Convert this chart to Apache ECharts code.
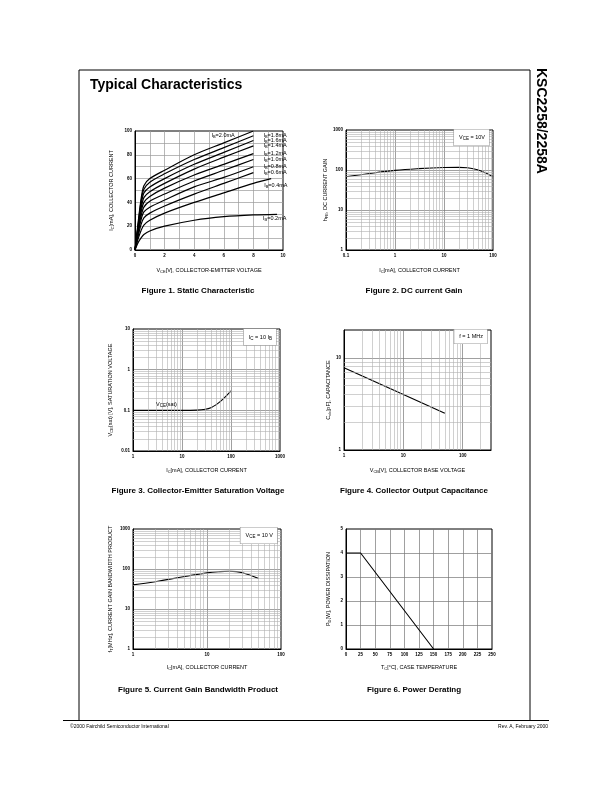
<!DOCTYPE html>
<html>
<head>
<meta charset="utf-8">
<script src="https://cdn.jsdelivr.net/npm/echarts@6/dist/echarts.min.js"></script>
<style>
html,body{margin:0;padding:0;background:#fff}
#chart{width:612px;height:792px}
</style>
</head>
<body>
<div id="chart"></div>
<script>
// Figure 1 : Ic vs Vce for each base current, pairs [Vce, Ic]
var ib20 = [[0,0],[0.2,22],[0.4,42],[0.6,54],[1,60],[2,67],[4,80],[6,90],[8,100]];
var ib18 = [[0,0],[0.2,20],[0.4,40],[0.6,51],[1,57],[2,64],[4,76],[6,86],[8,96]];
var ib16 = [[0,0],[0.2,19],[0.4,37],[0.6,48],[1,53],[2,60],[4,72],[6,82],[8,92]];
var ib14 = [[0,0],[0.2,18],[0.4,34],[0.6,44],[1,49],[2,56],[4,68],[6,78],[8,87.5]];
var ib12 = [[0,0],[0.2,16],[0.4,31],[0.6,40],[1,45],[2,52],[4,63],[6,72],[8,81]];
var ib10 = [[0,0],[0.2,15],[0.4,28],[0.6,36],[1,41],[2,47],[4,58],[6,67],[8,76]];
var ib08 = [[0,0],[0.2,13],[0.4,25],[0.6,32],[1,36],[2,42],[4,53],[6,61],[8,70]];
var ib06 = [[0,0],[0.2,11],[0.4,21],[0.6,27],[1,31],[2,37],[4,47],[6,56],[8,65]];
var ib04 = [[0,0],[0.2,9],[0.4,16],[0.6,21],[1,25],[2,31],[4,40],[6,48],[8,56],[9.2,60]];
var ib02 = [[0,0],[0.2,6],[0.4,10],[0.6,13],[1,16],[2,20],[4,25],[6,28],[8,29.5],[9.6,30]];
var ibNames = ['2.0','1.8','1.6','1.4','1.2','1.0','0.8','0.6','0.4','0.2'];
var fig1XTicks = [0,2,4,6,8,10];
var fig1YTicks = [0,20,40,60,80,100];

// Figure 2 : hFE vs Ic
var hfeData = [[0.1,68],[0.3,82],[1,98],[3,108],[10,115],[20,116],[30,114],[50,100],[70,85],[100,68]];
var fig2XTicks = ['0.1','1','10','100'];
var fig2YTicks = ['1','10','100','1000'];

// Figure 3 : Vce(sat) vs Ic
var vceSatData = [[1,0.1],[10,0.1],[20,0.101],[30,0.106],[40,0.118],[50,0.138],[60,0.163],[80,0.226],[100,0.3]];
var fig3XTicks = ['1','10','100','1000'];
var fig3YTicks = ['0.01','0.1','1','10'];

// Figure 4 : Cob vs Vcb
var cobData = [[1,7.8],[10,4.0],[50,2.5]];
var fig4XTicks = ['1','10','100'];
var fig4YTicks = ['1','10'];

// Figure 5 : fT vs Ic
var ftData = [[1,40],[2,48],[5,65],[10,80],[15,86],[20,88],[25,86],[30,81],[40,68],[50,58]];
var fig5XTicks = ['1','10','100'];
var fig5YTicks = ['1','10','100','1000'];

// Figure 6 : Pd vs Tc
var pdData = [[0,4],[25,4],[150,0]];

var FONT = 'Liberation Sans, Arial, sans-serif';
var sub = { fontSize: 4, fontFamily: FONT, padding: [3, 0, 0, 0] };
var subBig = { fontSize: 4.5, fontFamily: FONT, padding: [3, 0, 0, 0] };

var grids = [
  { left: 135, top: 131, width: 148, height: 119 },
  { left: 346, top: 130, width: 147, height: 120 },
  { left: 133, top: 329, width: 147, height: 122 },
  { left: 344, top: 330, width: 147, height: 120 },
  { left: 133, top: 529, width: 148, height: 120 },
  { left: 346, top: 529, width: 146, height: 120 }
];
grids.forEach(function (g) { g.show = true; g.borderColor = '#000'; g.borderWidth = 1; });

// minor grid lines 2..9 inside every decade of a log axis
function minorVals(lo, hi) {
  var out = [];
  for (var d = lo; d < hi; d *= 10) {
    for (var k = 2; k <= 9; k++) {
      var v = +(d * k).toPrecision(3);
      if (v < hi) out.push(v);
    }
  }
  return out;
}
function minorLines(xlo, xhi, ylo, yhi) {
  var d = minorVals(xlo, xhi).map(function (v) { return { xAxis: v }; })
    .concat(minorVals(ylo, yhi).map(function (v) { return { yAxis: v }; }));
  return {
    silent: true, symbol: 'none', label: { show: false },
    lineStyle: { color: '#b0b0b0', width: 0.6, type: 'solid' },
    emphasis: { disabled: true },
    data: d
  };
}

function labelIn(list) {
  return function (v) {
    var s = String(+(+v).toPrecision(3));
    return list.indexOf(s) >= 0 || list.indexOf(+s) >= 0 ? s : '';
  };
}

function axis(gi, opt, nameText, gap) {
  var a = {
    gridIndex: gi,
    name: nameText,
    nameLocation: 'middle',
    nameGap: gap,
    nameTextStyle: { fontSize: 5.5, fontFamily: FONT, color: '#000', rich: { s: sub } },
    axisLine: { show: true, lineStyle: { color: '#000', width: 1 } },
    axisTick: { show: false },
    axisLabel: { fontSize: 4.5, fontFamily: FONT, color: '#000', margin: 3, fontWeight: 'bold' },
    splitLine: { show: true, showMinLine: false, showMaxLine: false, lineStyle: { color: '#777', width: 0.7 } }
  };
  for (var k in opt) {
    if (k === 'axisLabel' || k === 'splitLine') Object.assign(a[k], opt[k]);
    else a[k] = opt[k];
  }
  return a;
}

var xAxes = [
  axis(0, { type: 'value', min: 0, max: 10, interval: 1,
    axisLabel: { formatter: labelIn(fig1XTicks) }, splitLine: { lineStyle: { color: '#999', width: 0.7 } } },
    'V{s|CE}[V], COLLECTOR-EMITTER VOLTAGE', 17),
  axis(1, { type: 'log', min: 0.1, max: 100, axisLabel: { formatter: labelIn(fig2XTicks) } },
    'I{s|C}[mA], COLLECTOR CURRENT', 17),
  axis(2, { type: 'log', min: 1, max: 1000, axisLabel: { formatter: labelIn(fig3XTicks) } },
    'I{s|C}[mA], COLLECTOR CURRENT', 16),
  axis(3, { type: 'log', min: 1, max: 300, axisLabel: { formatter: labelIn(fig4XTicks) } },
    'V{s|CB}[V], COLLECTOR BASE VOLTAGE', 17),
  axis(4, { type: 'log', min: 1, max: 100, axisLabel: { formatter: labelIn(fig5XTicks) } },
    'I{s|C}[mA], COLLECTOR CURRENT', 15),
  axis(5, { type: 'value', min: 0, max: 250, interval: 25 },
    'T{s|C}[°C], CASE TEMPERATURE', 15)
];
var yAxes = [
  axis(0, { type: 'value', min: 0, max: 100, interval: 10,
    axisLabel: { formatter: labelIn(fig1YTicks) }, splitLine: { lineStyle: { color: '#999', width: 0.7 } } },
    'I{s|C}[mA], COLLECTOR CURRENT', 20),
  axis(1, { type: 'log', min: 1, max: 1000, axisLabel: { formatter: labelIn(fig2YTicks) } },
    'h{s|FE}, DC CURRENT GAIN', 14),
  axis(2, { type: 'log', min: 0.01, max: 10, axisLabel: { formatter: labelIn(fig3YTicks) } },
    'V{s|CE}(sat) [V], SATURATION VOLTAGE', 19),
  axis(3, { type: 'log', min: 1, max: 20, axisLabel: { formatter: labelIn(fig4YTicks) } },
    'C{s|ob}[pF], CAPACITANCE', 10),
  axis(4, { type: 'log', min: 1, max: 1000, axisLabel: { formatter: labelIn(fig5YTicks) } },
    'f{s|T}[MHz], CURRENT GAIN BANDWIDTH PRODUCT', 19),
  axis(5, { type: 'value', min: 0, max: 5, interval: 1 },
    'P{s|D}[W], POWER DISSIPATION', 14)
];

var ibCurves = [ib20, ib18, ib16, ib14, ib12, ib10, ib08, ib06, ib04, ib02];
var endOffsets = [[-50, 4], [2, 0], [2, 0], [2, 0], [2, 0], [2, 0], [2, 0], [2, 0], [-15, 7], [-22, 4]];
var series = ibCurves.map(function (c, i) {
  return {
    type: 'line', xAxisIndex: 0, yAxisIndex: 0, data: c,
    smooth: 0.3, symbol: 'none', silent: true,
    lineStyle: { color: '#000', width: 1.2 },
    endLabel: {
      show: true, offset: endOffsets[i], fontSize: 5.5, fontFamily: FONT, color: '#000',
      formatter: 'I{s|B}=' + ibNames[i] + 'mA', rich: { s: sub }
    }
  };
});

function logSeries(idx, d, smooth, ml) {
  return {
    type: 'line', xAxisIndex: idx, yAxisIndex: idx, data: d,
    smooth: smooth, symbol: 'none', silent: true,
    lineStyle: { color: '#000', width: 1.1 },
    markLine: ml
  };
}
series.push(logSeries(1, hfeData, 0.4, minorLines(0.1, 100, 1, 1000)));
series.push(logSeries(2, vceSatData, 0.4, minorLines(1, 1000, 0.01, 10)));
series.push(logSeries(3, cobData, false, minorLines(1, 300, 1, 20)));
series.push(logSeries(4, ftData, 0.4, minorLines(1, 100, 1, 1000)));
series.push({
  type: 'line', xAxisIndex: 5, yAxisIndex: 5, data: pdData, symbol: 'none', silent: true,
  lineStyle: { color: '#000', width: 1.1 }
});

function txt(x, y, text, font, align, extra) {
  var st = { text: text, font: font, fill: '#000', align: align || 'left', verticalAlign: 'middle',
    rich: { s: subBig } };
  if (extra) Object.assign(st, extra);
  return { type: 'text', x: x, y: y, z: 50, style: st };
}
var boxStyle = { backgroundColor: '#fff', borderColor: '#999', borderWidth: 0.6, padding: [4, 4, 4, 5] };
var capFont = 'bold 8px ' + FONT;
var smallFont = '5.5px ' + FONT;

var graphics = [
  { type: 'polyline', z: 40, shape: { points: [[79, 720], [79, 70], [530, 70], [530, 720]] },
    style: { stroke: '#000', lineWidth: 1, fill: null } },
  { type: 'line', z: 40, shape: { x1: 63, y1: 720.5, x2: 549, y2: 720.5 }, style: { stroke: '#000', lineWidth: 1 } },
  txt(90, 85, 'Typical Characteristics', 'bold 14px ' + FONT),
  { type: 'text', x: 541, y: 68, rotation: -Math.PI / 2, z: 50,
    style: { text: 'KSC2258/2258A', font: 'bold 14px ' + FONT, fill: '#000', align: 'left', verticalAlign: 'middle' } },
  txt(198, 291, 'Figure 1. Static Characteristic', capFont, 'center'),
  txt(414, 291, 'Figure 2. DC current Gain', capFont, 'center'),
  txt(198, 491, 'Figure 3. Collector-Emitter Saturation Voltage', capFont, 'center'),
  txt(414, 491, 'Figure 4. Collector Output Capacitance', capFont, 'center'),
  txt(198, 690, 'Figure 5. Current Gain Bandwidth Product', capFont, 'center'),
  txt(414, 690, 'Figure 6. Power Derating', capFont, 'center'),
  txt(489, 137.5, 'V{s|CE} = 10V', smallFont, 'right', boxStyle),
  txt(276, 337, 'I{s|C} = 10 I{s|B}', smallFont, 'right', boxStyle),
  txt(487, 336.5, 'f = 1 MHz', smallFont, 'right', boxStyle),
  txt(277, 535.5, 'V{s|CE} = 10 V', smallFont, 'right', boxStyle),
  txt(156, 404, 'V{s|CE}(sat)', smallFont, 'left'),
  txt(70, 727, '©2000 Fairchild Semiconductor International', '5px ' + FONT, 'left'),
  txt(548, 727, 'Rev. A, February 2000', '5px ' + FONT, 'right')
];

var chart = echarts.init(document.getElementById('chart'), null, { renderer: 'canvas' });
chart.setOption({
  animation: false,
  backgroundColor: '#fff',
  grid: grids,
  xAxis: xAxes,
  yAxis: yAxes,
  series: series,
  graphic: graphics
});
</script>
</body>
</html>
